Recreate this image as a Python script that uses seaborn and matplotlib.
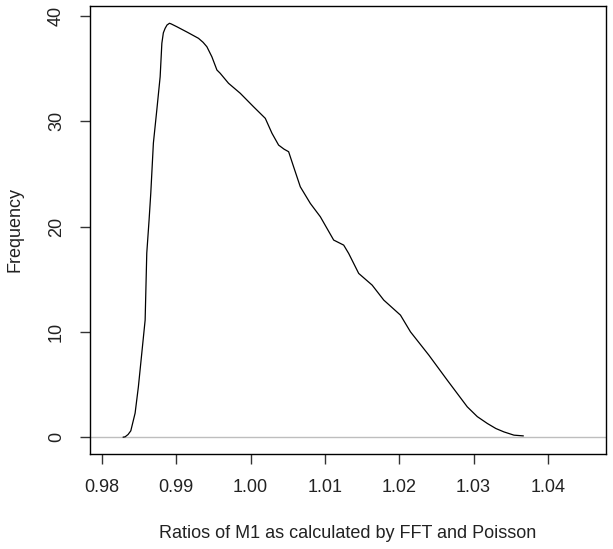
import matplotlib
matplotlib.use('Agg')
import matplotlib.pyplot as plt
import numpy as np
import seaborn as sns

# density curve
ratio = [0.98283, 0.98310, 0.98350, 0.98387, 0.98445, 0.98489, 0.98535, 0.98580, 0.98602,
         0.98633, 0.98656, 0.98691, 0.98737, 0.98782, 0.98805, 0.98825, 0.98849, 0.98875,
         0.98894, 0.98907, 0.98930, 0.99007, 0.99150, 0.99298, 0.99360, 0.99411, 0.99478,
         0.99546, 0.99590, 0.99702, 0.99860, 1.00039, 1.00197, 1.00287, 1.00376, 1.00450,
         1.00511, 1.00578, 1.00668, 1.00803, 1.00938, 1.01117, 1.01252, 1.01319, 1.01454,
         1.01635, 1.01791, 1.02016, 1.02151, 1.02398, 1.02645, 1.02915, 1.03050, 1.03185,
         1.03300, 1.03408, 1.03543, 1.03670]
freq = [0.00, 0.03, 0.25, 0.60, 2.28, 4.78, 7.98, 11.12, 17.48,
        20.62, 23.18, 27.93, 31.07, 34.23, 37.41, 38.40, 38.83, 39.15,
        39.24, 39.31, 39.25, 38.98, 38.45, 37.88, 37.50, 37.08, 36.13,
        34.87, 34.56, 33.61, 32.66, 31.38, 30.28, 28.86, 27.74, 27.35,
        27.11, 25.68, 23.78, 22.20, 20.93, 18.72, 18.24, 17.45, 15.55,
        14.44, 13.02, 11.59, 10.00, 7.79, 5.42, 2.88, 1.95, 1.30,
        0.82, 0.50, 0.19, 0.12]

x_ticks = [0.98, 0.99, 1.00, 1.01, 1.02, 1.03, 1.04]
y_ticks = [0, 10, 20, 30, 40]

sns.set_style('white')
plt.rcParams['font.family'] = ['Liberation Sans', 'DejaVu Sans']

fig = plt.figure(figsize=(6.13, 5.49), dpi=100)
ax = fig.add_axes([90/613, 1 - 454/549, 516/613, 448/549])

ax.axhline(0, color='#bebebe', lw=1.0, zorder=1)
sns.lineplot(x=ratio, y=freq, sort=False, estimator=None, color='black', lw=0.9, ax=ax, zorder=2)

ax.set_xlim(0.97838, 1.04782)
ax.set_ylim(-1.6, 40.95)
ax.set_xticks(x_ticks)
ax.set_xticklabels(['%.2f' % t for t in x_ticks])
ax.set_yticks(y_ticks)
ax.set_yticklabels([str(t) for t in y_ticks], rotation=90, va='center')

for s in ax.spines.values():
    s.set_visible(True)
    s.set_color('black')
    s.set_linewidth(1.0)

ax.tick_params(axis='both', direction='out', length=7.5, width=1.0, color='#333333',
               labelsize=13, labelcolor='#222222', pad=10.5, bottom=True, left=True)

ax.set_xlabel('Ratios of M1 as calculated by FFT and Poisson', fontsize=13, color='#222222')
ax.set_ylabel('Frequency', fontsize=13, color='#222222')
ax.xaxis.set_label_coords(0.5, -0.158)
ax.yaxis.set_label_coords(-0.128, 0.5)

fig.savefig('out.png', dpi=100)
